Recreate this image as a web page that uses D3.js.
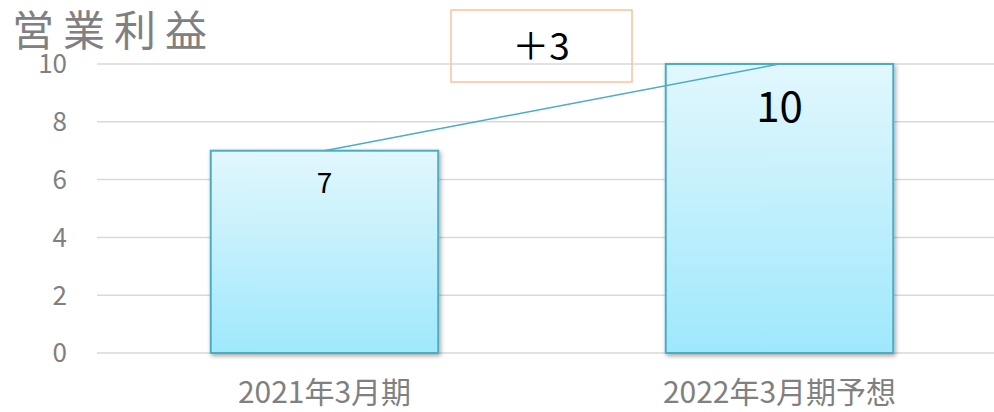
<!DOCTYPE html>
<html>
<head>
<meta charset="utf-8">
<script src="https://cdn.jsdelivr.net/npm/d3@7"></script>
<style>
  body { margin: 0; background: #fff; }
  svg { display: block; font-family: "Noto Sans CJK JP", "Noto Sans", sans-serif; }
</style>
</head>
<body>
<svg id="chart" width="994" height="412"></svg>
<script>
// data
const categories = ["2021年3月期", "2022年3月期予想"];
const values = [7, 10];
const yTicks = [0, 2, 4, 6, 8, 10];
const title = "営業利益";
const diffLabel = "＋3";

const width = 994, height = 412;
const svg = d3.select("#chart");

const x = d3.scaleBand()
    .domain(categories)
    .range([97, 1007])
    .padding(0.5)
    .paddingOuter(0.25);

const y = d3.scaleLinear()
    .domain([0, 10])
    .range([353, 64]);

const defs = svg.append("defs");
const grad = defs.append("linearGradient")
    .attr("id", "barGrad")
    .attr("x1", 0).attr("y1", 0).attr("x2", 0).attr("y2", 1);
grad.append("stop").attr("offset", "0%").attr("stop-color", "#e2f7fd");
grad.append("stop").attr("offset", "100%").attr("stop-color", "#9fe8fc");

const shadow = defs.append("filter")
    .attr("id", "shadow")
    .attr("x", "-10%").attr("y", "-10%").attr("width", "130%").attr("height", "130%");
shadow.append("feDropShadow")
    .attr("dx", 1.5).attr("dy", 2)
    .attr("stdDeviation", 2)
    .attr("flood-color", "#000")
    .attr("flood-opacity", 0.35);

// gridlines
svg.append("g")
    .selectAll("line")
    .data(yTicks)
    .enter().append("line")
    .attr("x1", 97)
    .attr("x2", width)
    .attr("y1", d => y(d))
    .attr("y2", d => y(d))
    .style("stroke", "#d9d9d9")
    .style("stroke-width", 1.5);

// y tick labels
svg.append("g")
    .selectAll("text")
    .data(yTicks)
    .enter().append("text")
    .attr("x", 67)
    .attr("y", d => y(d))
    .attr("dy", "0.36em")
    .attr("text-anchor", "end")
    .style("font-size", "26px")
    .style("fill", "#808080")
    .text(d => d);

// bars
svg.append("g")
    .selectAll("rect")
    .data(values)
    .enter().append("rect")
    .attr("x", (d, i) => x(categories[i]))
    .attr("y", d => y(d))
    .attr("width", x.bandwidth())
    .attr("height", d => y(0) - y(d))
    .attr("fill", "url(#barGrad)")
    .attr("stroke", "#4bacc6")
    .attr("stroke-width", 2)
    .attr("filter", "url(#shadow)");

// connecting line between bar tops
svg.append("line")
    .attr("x1", x(categories[0]) + x.bandwidth() / 2)
    .attr("y1", y(values[0]))
    .attr("x2", x(categories[1]) + x.bandwidth() / 2)
    .attr("y2", y(values[1]))
    .style("stroke", "#4bacc6")
    .style("stroke-width", 1.5);

// value labels
svg.append("g")
    .selectAll("text")
    .data(values)
    .enter().append("text")
    .attr("x", (d, i) => x(categories[i]) + x.bandwidth() / 2)
    .attr("y", (d, i) => i === 0 ? y(d) + 42 : y(d) + 58)
    .attr("text-anchor", "middle")
    .style("font-size", (d, i) => i === 0 ? "28px" : "42px")
    .style("fill", "#000")
    .text(d => d);

// category labels
svg.append("g")
    .selectAll("text")
    .data(categories)
    .enter().append("text")
    .attr("x", d => x(d) + x.bandwidth() / 2)
    .attr("y", 403)
    .attr("text-anchor", "middle")
    .style("font-size", "30px")
    .style("fill", "#808080")
    .text(d => d);

// difference box
svg.append("rect")
    .attr("x", 451)
    .attr("y", 10)
    .attr("width", 181)
    .attr("height", 72)
    .attr("fill", "none")
    .attr("stroke", "#f8c49a")
    .attr("stroke-width", 1.5);

svg.append("text")
    .attr("x", 541)
    .attr("y", 60)
    .attr("text-anchor", "middle")
    .style("font-size", "37px")
    .style("fill", "#000")
    .text(diffLabel);

// title
svg.append("text")
    .attr("x", 12)
    .attr("y", 46)
    .style("font-size", "42px")
    .style("letter-spacing", "9px")
    .style("fill", "#808080")
    .text(title);
</script>
</body>
</html>
